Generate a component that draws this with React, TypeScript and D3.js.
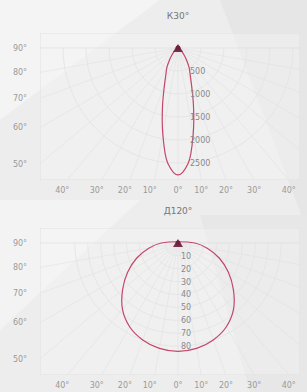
import React, { useEffect, useRef } from 'react'
import * as d3 from 'd3'

const W = 307
const H = 392

// angles in degrees from nadir, one side (curve mirrored)
const angles = [0, 5, 10, 15, 20, 25, 30, 35, 40, 50, 60, 90]
const k30Values = [2760, 2520, 1900, 1300, 860, 620, 480, 330, 220, 90, 30, 0]
const k30Ticks = [500, 1000, 1500, 2000, 2500]

const d120Angles = [0, 10, 20, 30, 40, 50, 60, 70, 80, 90]
const d120Values = [84, 83, 80, 75, 67, 56, 45, 34, 23, 13]
const d120Ticks = [10, 20, 30, 40, 50, 60, 70, 80]

const leftLabels = [90, 80, 70, 60, 50]
const bottomLabels = [-40, -30, -20, -10, 0, 10, 20, 30, 40]

type Panel = {
  title: string
  cy: number
  top: number
  bottom: number
  angles: number[]
  values: number[]
  ticks: number[]
  rScale: d3.ScaleLinear<number, number>
  tickX: number
}

export default function App() {
  const ref = useRef<SVGSVGElement>(null)

  useEffect(() => {
    const svg = d3.select(ref.current)
    svg.selectAll('*').remove()

    svg.append('rect').attr('width', W).attr('height', H).attr('fill', '#ededed')
    // faint background shapes
    svg.append('path').attr('d', 'M0,0 L160,0 L0,120 Z').attr('fill', '#f4f4f4')
    svg.append('path').attr('d', 'M220,0 L307,0 L307,230 Z').attr('fill', '#e6e6e6')
    svg.append('path').attr('d', 'M0,200 L140,200 L0,330 Z').attr('fill', '#f3f3f3')
    svg.append('path').attr('d', 'M200,215 L307,215 L307,392 L250,392 Z').attr('fill', '#e7e7e7')

    const cx = 178
    const left = 40
    const right = 300

    const panels: Panel[] = [
      {
        title: 'К30°', cy: 48, top: 33, bottom: 180,
        angles, values: k30Values, ticks: k30Ticks,
        rScale: d3.scaleLinear().domain([0, 3000]).range([0, 138]), tickX: 190,
      },
      {
        title: 'Д120°', cy: 243, top: 228, bottom: 375,
        angles: d120Angles, values: d120Values, ticks: d120Ticks,
        rScale: d3.scaleLinear().domain([0, 100]).range([0, 129]), tickX: 181,
      },
    ]

    panels.forEach(p => {
      const g = svg.append('g')
      const cy = p.cy
      const clipId = 'clip' + cy
      g.append('clipPath').attr('id', clipId)
        .append('rect').attr('x', left).attr('y', p.top).attr('width', right - left).attr('height', p.bottom - p.top)

      const grid = g.append('g').attr('clip-path', `url(#${clipId})`)
      grid.append('rect').attr('x', left).attr('y', p.top).attr('width', right - left).attr('height', p.bottom - p.top)
        .attr('fill', '#f6f6f6').attr('fill-opacity', 0.4).attr('stroke', '#e0e0e0')
      // horizontal line through center
      grid.append('line').attr('x1', left).attr('x2', right).attr('y1', cy).attr('y2', cy)
        .attr('stroke', '#dcdcdc').attr('stroke-width', 0.6)
      // radial lines
      d3.range(-80, 81, 10).forEach(a => {
        const t = (a * Math.PI) / 180
        grid.append('line').attr('x1', cx).attr('y1', cy)
          .attr('x2', cx + Math.sin(t) * 400).attr('y2', cy + Math.cos(t) * 400)
          .attr('stroke', '#dedede').attr('stroke-width', 0.5)
      })
      // concentric arcs
      p.ticks.forEach(v => {
        const arc = d3.arc()({ innerRadius: p.rScale(v), outerRadius: p.rScale(v), startAngle: Math.PI / 2, endAngle: Math.PI * 1.5 })
        grid.append('path').attr('d', arc).attr('transform', `translate(${cx},${cy})`)
          .attr('fill', 'none').attr('stroke', '#e2e2e2').attr('stroke-width', 0.5)
      })

      // curve
      const pts: [number, number][] = []
      for (let i = p.angles.length - 1; i > 0; i--) pts.push([-p.angles[i], p.values[i]])
      for (let i = 0; i < p.angles.length; i++) pts.push([p.angles[i], p.values[i]])
      const line = d3.lineRadial<[number, number]>()
        .angle(d => Math.PI - (d[0] * Math.PI) / 180)
        .radius(d => p.rScale(d[1]))
        .curve(d3.curveCatmullRomClosed)
      g.append('path').attr('d', line(pts)).attr('transform', `translate(${cx},${cy})`)
        .attr('fill', 'none').attr('stroke', '#c4466a').attr('stroke-width', 1.2)

      // lamp mark
      g.append('path').attr('d', `M${cx - 5},${cy + 4} L${cx},${cy - 4} L${cx + 5},${cy + 4} Z`).attr('fill', '#7d2c4b')
      g.append('circle').attr('cx', cx).attr('cy', cy).attr('r', 2.5).attr('fill', '#6a2440')

      // radial tick labels
      p.ticks.forEach(v => {
        g.append('text').attr('x', p.tickX).attr('y', cy + p.rScale(v)).attr('dy', '0.35em')
          .attr('font-size', 8).attr('fill', '#8a8a8a').attr('font-family', 'DejaVu Sans').text(v)
      })

      // title
      g.append('text').attr('x', cx).attr('y', p.top - 14).attr('text-anchor', 'middle')
        .attr('font-size', 9).attr('fill', '#777').attr('font-family', 'DejaVu Sans').text(p.title)

      // left labels
      leftLabels.forEach(a => {
        const t = ((90 - a) * Math.PI) / 180
        const y = cy + (cx - left) * Math.tan(t)
        g.append('text').attr('x', 20).attr('y', y).attr('dy', '0.35em').attr('text-anchor', 'middle')
          .attr('font-size', 8).attr('fill', '#9a9a9a').attr('font-family', 'DejaVu Sans').text(a + '°')
      })
      // bottom labels
      bottomLabels.forEach(a => {
        const x = cx + (p.bottom - cy) * Math.tan((a * Math.PI) / 180)
        g.append('text').attr('x', x - (a < 0 ? 5 : 0)).attr('y', p.bottom + 13).attr('text-anchor', 'middle')
          .attr('font-size', 8).attr('fill', '#9a9a9a').attr('font-family', 'DejaVu Sans').text(Math.abs(a) + '°')
      })
    })
  }, [])

  return <svg ref={ref} width={W} height={H} style={{ position: 'absolute', left: 0, top: 0 }} />
}
